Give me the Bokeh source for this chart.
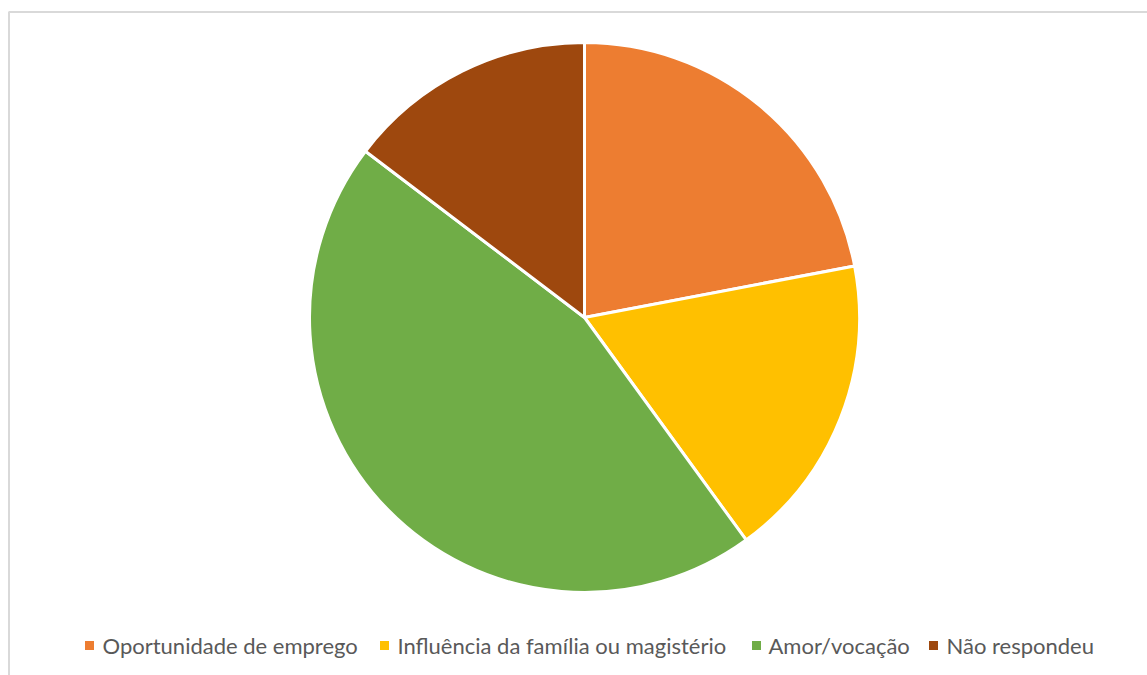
import numpy as np
from bokeh.plotting import figure
from bokeh.models import Range1d, ColumnDataSource
from bokeh.core.properties import value
from bokeh.embed import file_html
from bokeh.resources import INLINE

categories = ["Oportunidade de emprego", "Influência da família ou magistério", "Amor/vocação", "Não respondeu"]
values = [33, 27, 68, 22]
colors = ["#ED7D31", "#FFC000", "#70AD47", "#9E480E"]

W, H = 1147, 675
p = figure(width=W, height=H, output_backend="svg", toolbar_location=None,
           x_range=Range1d(0, W), y_range=Range1d(0, H), min_border=0)
p.axis.visible = False
p.grid.visible = False
p.outline_line_color = None
p.background_fill_color = "white"

# chart border (light gray), top and left visible
p.line([8.5, 8.5, W + 5], [-5, H - 11.5, H - 11.5], line_color="#d9d9d9", line_width=2)

vals = np.array(values, dtype=float)
frac = vals / vals.sum()
cum = np.concatenate([[0], np.cumsum(frac)])
start = np.pi / 2 - 2 * np.pi * cum[:-1]
end = np.pi / 2 - 2 * np.pi * cum[1:]
src = ColumnDataSource(dict(start=start, end=end, color=colors, cat=categories))
cx, cy, r = 584, H - 317, 275
p.wedge(x=cx, y=cy, radius=r, start_angle="start", end_angle="end", direction="clock",
        fill_color="color", line_color="white", line_width=3, source=src)

# legend
sq_x = [89, 384, 756, 933]
tx = [102, 397, 768, 946]
ly = H - 645
p.rect(x=sq_x, y=[ly] * 4, width=9, height=9, fill_color=colors, line_color=None)
p.text(x=tx, y=[ly] * 4, text=categories, text_font=value("Lato"), text_font_size="22px",
       text_color="#595959", text_baseline="middle", text_align="left")

open("out.html", "w").write(file_html(p, INLINE))
